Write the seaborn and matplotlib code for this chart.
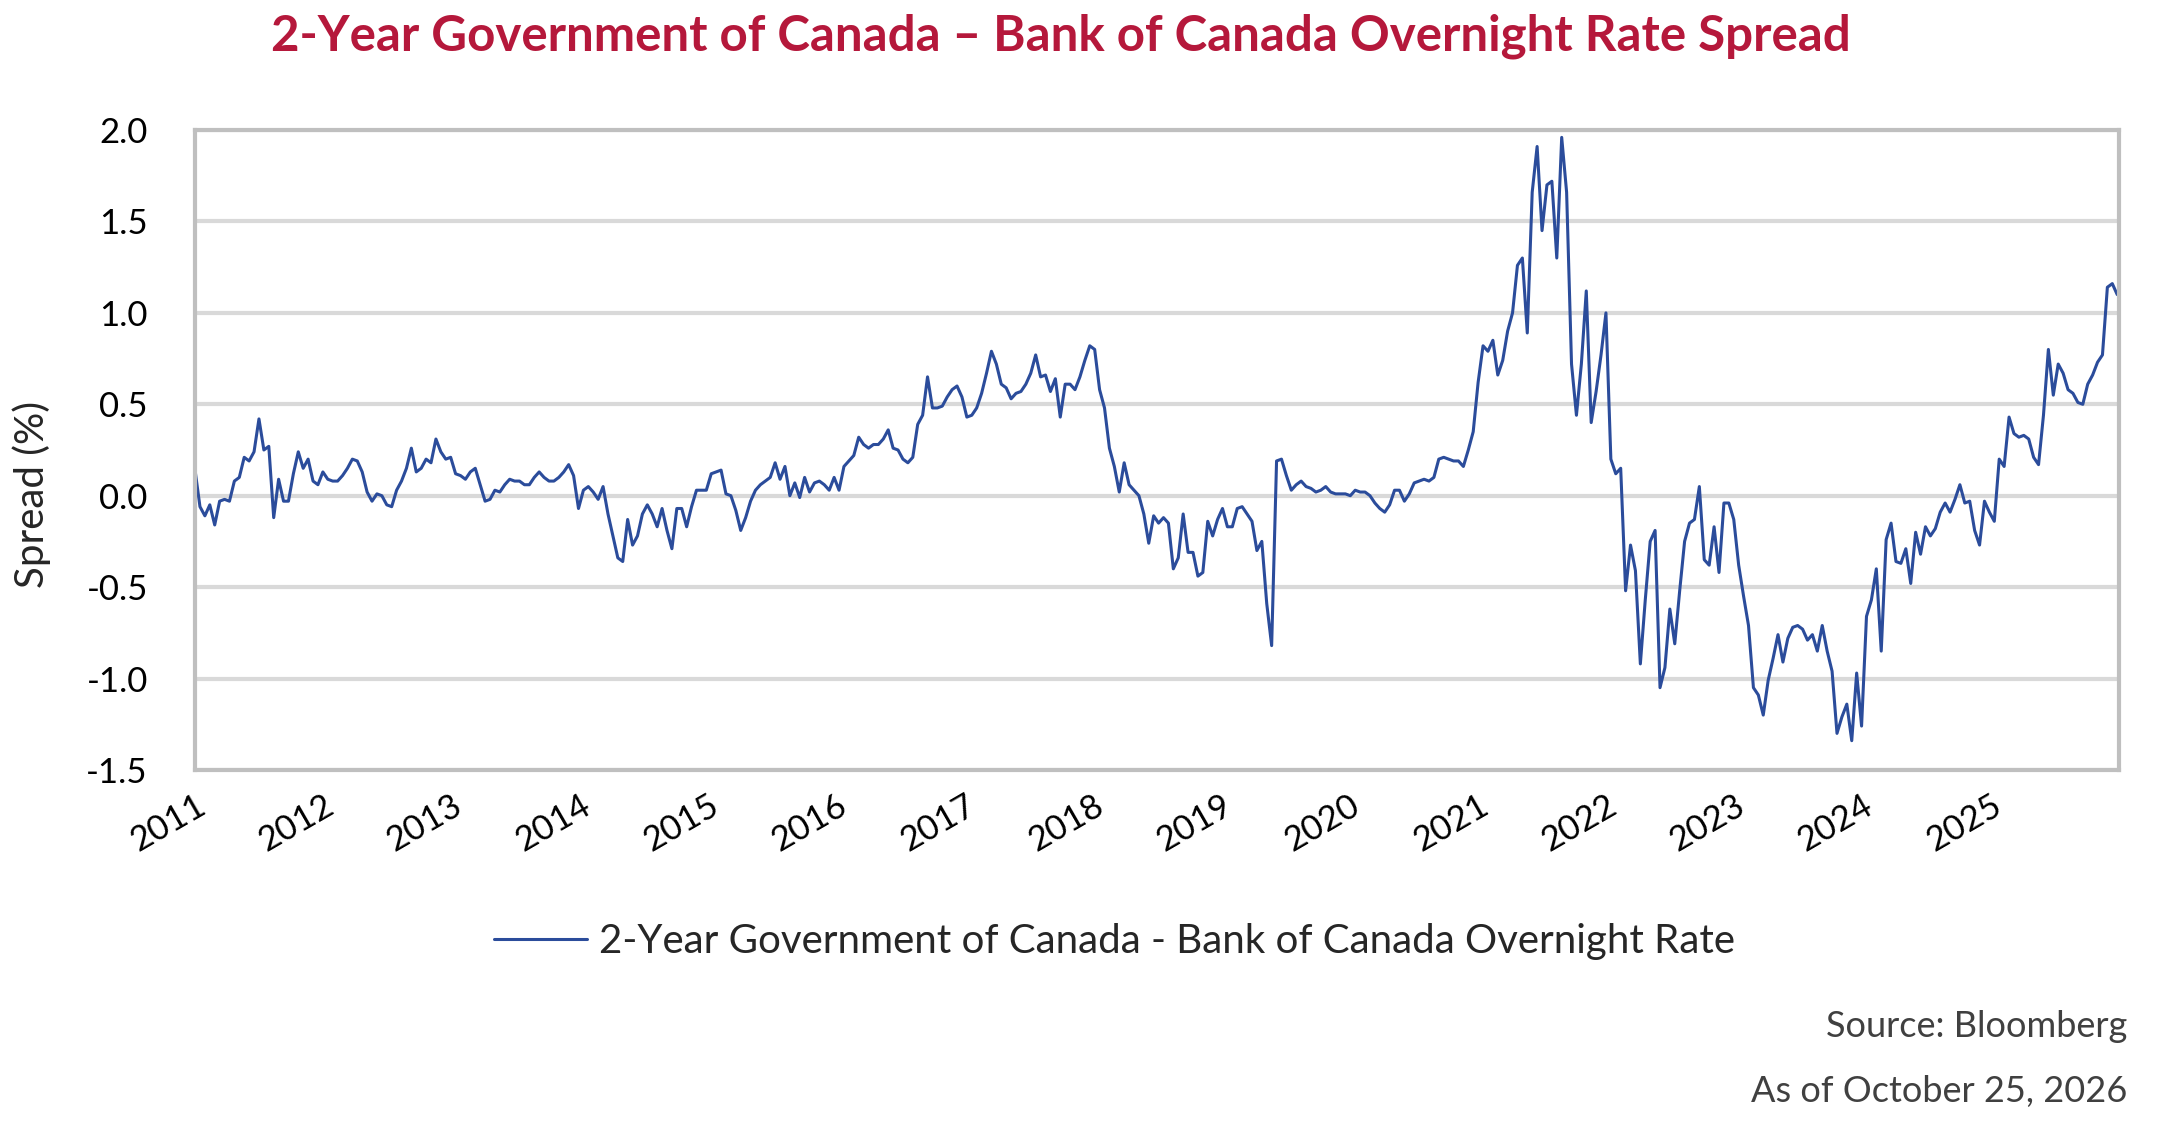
import pandas as pd
import matplotlib
matplotlib.use('Agg')
import matplotlib.pyplot as plt
import seaborn as sns

# Spread values, one every two weeks from Jan 2011
spread_2011_2013 = [
    0.14, -0.06, -0.11, -0.05, -0.16, -0.03, -0.02, -0.03, 0.08, 0.10,
    0.21, 0.19, 0.24, 0.42, 0.25, 0.27, -0.12, 0.09, -0.03, -0.03,
    0.12, 0.24, 0.15, 0.20, 0.08, 0.06, 0.13, 0.09, 0.08, 0.08,
    0.11, 0.15, 0.20, 0.19, 0.13, 0.02, -0.03, 0.01, 0.00, -0.05,
    -0.06, 0.03, 0.08, 0.15, 0.26, 0.13, 0.15, 0.20, 0.18, 0.31,
    0.24, 0.20, 0.21, 0.12, 0.11, 0.09, 0.13, 0.15, 0.06, -0.03,
    -0.02, 0.03, 0.02, 0.06, 0.09, 0.08,
]
spread_2013_2015 = [
    0.08, 0.06, 0.06, 0.10, 0.13, 0.10, 0.08, 0.08, 0.10, 0.13,
    0.17, 0.11, -0.07, 0.03, 0.05, 0.02, -0.02, 0.05, -0.10, -0.22,
    -0.34, -0.36, -0.13, -0.27, -0.22, -0.10, -0.05, -0.10, -0.17, -0.07,
    -0.19, -0.29, -0.07, -0.07, -0.17, -0.06, 0.03, 0.03, 0.03, 0.12,
    0.13, 0.14, 0.01, 0.00, -0.08, -0.19, -0.12, -0.03, 0.03, 0.06,
    0.08, 0.10, 0.18, 0.09, 0.16, 0.00, 0.07, -0.01, 0.10, 0.02,
    0.07, 0.08, 0.06, 0.03,
]
spread_2016_2018 = [
    0.10, 0.03, 0.16, 0.19, 0.22, 0.32, 0.28, 0.26, 0.28, 0.28,
    0.31, 0.36, 0.26, 0.25, 0.20, 0.18, 0.21, 0.39, 0.44, 0.65,
    0.48, 0.48, 0.49, 0.54, 0.58, 0.60, 0.54, 0.43, 0.44, 0.48,
    0.56, 0.67, 0.79, 0.72, 0.61, 0.59, 0.53, 0.56, 0.57, 0.61,
    0.67, 0.77, 0.65, 0.66, 0.57, 0.64, 0.43, 0.61, 0.61, 0.58,
    0.65, 0.74, 0.82, 0.80, 0.58, 0.48, 0.26, 0.16, 0.02, 0.18,
    0.06, 0.03, 0.00, -0.10, -0.26,
]
spread_2018_2020 = [
    -0.11, -0.15, -0.12, -0.15, -0.40, -0.34, -0.10, -0.31, -0.31, -0.44,
    -0.42, -0.14, -0.22, -0.13, -0.07, -0.17, -0.17, -0.07, -0.06, -0.10,
    -0.14, -0.30, -0.25, -0.59, -0.82, 0.19, 0.20, 0.11, 0.03, 0.06,
    0.08, 0.05, 0.04, 0.02, 0.03, 0.05, 0.02, 0.01, 0.01, 0.01,
    0.00, 0.03, 0.02, 0.02, 0.00, -0.04, -0.07, -0.09, -0.05, 0.03,
    0.03, -0.03, 0.01, 0.07, 0.08, 0.09, 0.08, 0.10, 0.20, 0.21,
    0.20, 0.19, 0.19, 0.16, 0.25,
]
spread_2020_2023 = [
    0.35, 0.62, 0.82, 0.79, 0.85, 0.66, 0.74, 0.90, 1.00, 1.26,
    1.30, 0.89, 1.66, 1.91, 1.45, 1.70, 1.72, 1.30, 1.96, 1.66,
    0.72, 0.44, 0.72, 1.12, 0.40, 0.57, 0.77, 1.00, 0.20, 0.12,
    0.15, -0.52, -0.27, -0.41, -0.92, -0.57, -0.25, -0.19, -1.05, -0.94,
    -0.62, -0.81, -0.52, -0.25, -0.15, -0.13, 0.05, -0.35, -0.38, -0.17,
    -0.42, -0.04, -0.04, -0.13, -0.38, -0.55, -0.71, -1.05, -1.09, -1.20,
    -1.01, -0.89, -0.76, -0.91, -0.78,
]
spread_2023_2025 = [
    -0.72, -0.71, -0.73, -0.79, -0.76, -0.85, -0.71, -0.85, -0.96, -1.30,
    -1.21, -1.14, -1.34, -0.97, -1.26, -0.66, -0.57, -0.40, -0.85, -0.24,
    -0.15, -0.36, -0.37, -0.29, -0.48, -0.20, -0.32, -0.17, -0.22, -0.18,
    -0.09, -0.04, -0.09, -0.02, 0.06, -0.04, -0.03, -0.19, -0.27, -0.03,
    -0.09, -0.14, 0.20, 0.16, 0.43, 0.34, 0.32, 0.33, 0.31, 0.21,
    0.17, 0.44, 0.80, 0.55, 0.72, 0.67, 0.58, 0.56, 0.51, 0.50,
    0.61, 0.66, 0.73, 0.77, 1.14, 1.16, 1.10,
]

spread = (spread_2011_2013 + spread_2013_2015 + spread_2016_2018
          + spread_2018_2020 + spread_2020_2023 + spread_2023_2025)
dates = pd.date_range('2011-01-01', periods=len(spread), freq='14D')

year_ticks = list(range(2011, 2026))
y_ticks = [-1.5, -1.0, -0.5, 0.0, 0.5, 1.0, 1.5, 2.0]

series_name = '2-Year Government of Canada - Bank of Canada Overnight Rate'
df = pd.DataFrame({'date': dates, 'spread': spread, 'series': series_name})

sns.set_theme(style='white')
plt.rcParams['font.family'] = ['Lato', 'DejaVu Sans']

fig = plt.figure(figsize=(21.6, 11.24), dpi=100)
ax = fig.add_axes([0.0903, 0.315, 0.8907, 0.5693])

sns.lineplot(data=df, x='date', y='spread', hue='series',
             palette=['#2B4C9B'], linewidth=2.2, ax=ax, legend=False)

ax.set_xlim(pd.Timestamp('2011-01-01'), pd.Timestamp('2026-01-01'))
ax.set_ylim(-1.5, 2.0)
ax.set_yticks(y_ticks)
ax.set_yticklabels([f'{v:.1f}' for v in y_ticks])
ax.set_xticks([pd.Timestamp(f'{y}-01-01') for y in year_ticks])
ax.set_xticklabels([str(y) for y in year_ticks], rotation=30,
                   ha='right', rotation_mode='anchor')
ax.tick_params(axis='both', length=0, labelsize=25, colors='black')
ax.tick_params(axis='x', pad=14)
ax.tick_params(axis='y', pad=34)

ax.grid(axis='y', color='#D9D9D9', linewidth=3)
ax.set_axisbelow(True)
for s in ax.spines.values():
    s.set_color('#BFBFBF')
    s.set_linewidth(3)

ax.set_xlabel('')
ax.set_ylabel('Spread (%)', fontsize=29)
ax.yaxis.set_label_coords(-0.075, 0.43)

fig.suptitle('2-Year Government of Canada \u2013 Bank of Canada Overnight Rate Spread',
             x=0.491, y=0.988, fontsize=35.5, fontweight='bold', color='#B5183B')

# legend under the chart
handle = plt.Line2D([], [], color='#2B4C9B', linewidth=2.2)
fig.legend([handle], [series_name], loc='center', bbox_to_anchor=(0.516, 0.162),
           frameon=False, fontsize=29, handlelength=2.3, handletextpad=0.3)

fig.text(0.985, 0.087, 'Source: Bloomberg', ha='right', va='center',
         fontsize=26, color='#404040')
fig.text(0.985, 0.029, 'As of October 25, 2026', ha='right', va='center',
         fontsize=26, color='#404040')

fig.savefig('out.png', dpi=100)
